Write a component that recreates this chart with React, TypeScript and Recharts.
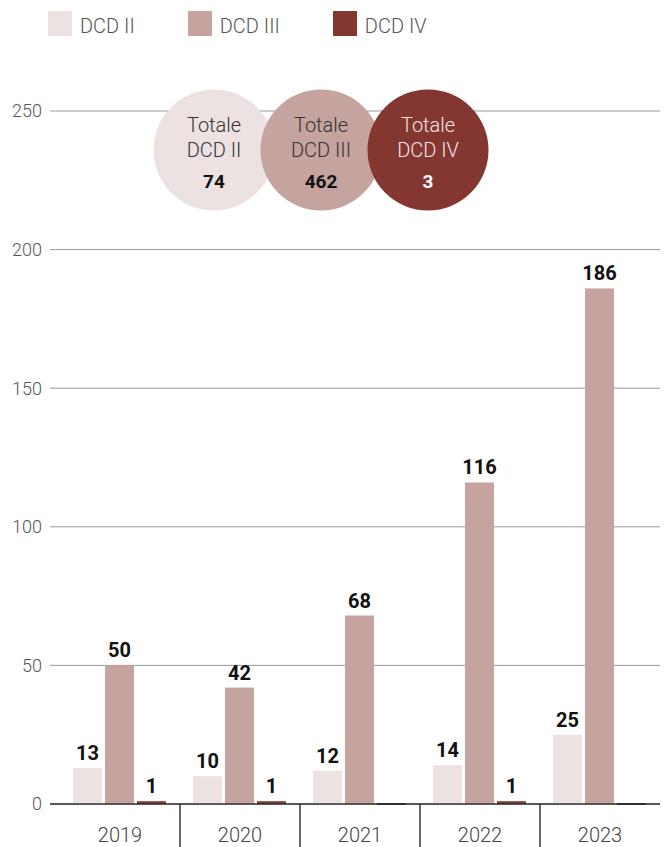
import React from 'react';
import { BarChart, Bar, XAxis, YAxis, CartesianGrid, LabelList, Legend } from 'recharts';

const years = ['2019', '2020', '2021', '2022', '2023'];
const dcd2 = [13, 10, 12, 14, 25];
const dcd3 = [50, 42, 68, 116, 186];
const dcd4 = [1, 1, 0, 1, 0];
const yTicks = [0, 50, 100, 150, 200, 250];
const seriesNames = ['DCD II', 'DCD III', 'DCD IV'];
const colors = ['#ece2e2', '#c5a39f', '#843631'];

const data = years.map((y, i) => ({ year: y, d2: dcd2[i], d3: dcd3[i], d4: dcd4[i] }));
const sum = (a: number[]) => a.reduce((s, v) => s + v, 0);
const totals = [sum(dcd2), sum(dcd3), sum(dcd4)];

const FONT = 'Roboto, "Open Sans", sans-serif';

const BarShape = (props: any) => {
  const { x, y, width, height, fill, value } = props;
  const v = Array.isArray(value) ? value[1] - value[0] : value;
  if (!v) {
    return <rect x={x} y={y - 1} width={width} height={2} fill="#222" />;
  }
  return <rect x={x} y={y} width={width} height={height} fill={fill} />;
};

const YearTick = (props: any) => {
  const { x, y, payload, index } = props;
  return (
    <g>
      {index > 0 && <line x1={x - 60} x2={x - 60} y1={y - 8} y2={y + 40} stroke="#333" strokeWidth={1.5} />}
      <text x={x} y={y + 30} textAnchor="middle" fill="#444" fontSize={20} fontWeight={300} fontFamily={FONT}>
        {payload.value}
      </text>
    </g>
  );
};

const LegendContent = () => (
  <div style={{ display: 'flex', alignItems: 'flex-start', fontFamily: FONT, height: 25 }}>
    {seriesNames.map((n, i) => (
      <div key={n} style={{ display: 'flex', alignItems: 'flex-start', marginRight: 53 }}>
        <div style={{ width: 24, height: 25, background: colors[i], marginRight: 8 }} />
        <span style={{ fontSize: 20, fontWeight: 300, color: '#555', lineHeight: '25px', marginTop: 3 }}>{n}</span>
      </div>
    ))}
  </div>
);

const fmt = (v: any) => (v === 0 ? '' : v);

export default function App() {
  const cx = [214, 321, 428];
  const textColors = ['#333', '#333', '#f3e6e4'];
  const numColors = ['#111', '#111', '#fff'];
  return (
    <div style={{ position: 'absolute', left: 0, top: 0, width: 668, height: 847, background: '#fff' }}>
      <BarChart
        width={668}
        height={847}
        data={data}
        margin={{ top: 86, right: 8, bottom: 0, left: 0 }}
        barCategoryGap={13}
        barGap={3}
      >
        <CartesianGrid vertical={false} stroke="#9a9a9a" strokeWidth={1} />
        <Legend
          verticalAlign="top"
          align="left"
          content={<LegendContent />}
          wrapperStyle={{ position: 'absolute', top: 11, left: 48, width: 600, height: 25 }}
        />
        <XAxis
          dataKey="year"
          height={43}
          padding={{ left: 10, right: 0 }}
          axisLine={{ stroke: '#333', strokeWidth: 1.5 }}
          tickLine={false}
          tick={<YearTick />}
          interval={0}
        />
        <YAxis
          width={50}
          domain={[0, 250]}
          ticks={yTicks}
          axisLine={false}
          tickLine={false}
          tickMargin={2}
          tick={{ fill: '#555', fontSize: 18, fontWeight: 300, fontFamily: FONT }}
        />
        {(['d2', 'd3', 'd4'] as const).map((k, i) => (
          <Bar key={k} dataKey={k} name={seriesNames[i]} fill={colors[i]} isAnimationActive={false} shape={<BarShape />}>
            <LabelList
              dataKey={k}
              position="top"
              offset={8}
              formatter={fmt}
              fill="#111"
              fontSize={20}
              fontWeight={700}
              fontFamily={FONT}
            />
          </Bar>
        ))}
      </BarChart>
      <svg width={668} height={847} style={{ position: 'absolute', left: 0, top: 0, pointerEvents: 'none' }}>
        {seriesNames.map((n, i) => (
          <g key={n} fontFamily={FONT}>
            <circle cx={cx[i]} cy={150} r={60.5} fill={colors[i]} />
            <text x={cx[i]} y={132} textAnchor="middle" fontSize={20} fontWeight={300} fill={textColors[i]}>Totale</text>
            <text x={cx[i]} y={157} textAnchor="middle" fontSize={20} fontWeight={300} fill={textColors[i]}>{n}</text>
            <text x={cx[i]} y={188} textAnchor="middle" fontSize={19} fontWeight={700} fill={numColors[i]}>{totals[i]}</text>
          </g>
        ))}
      </svg>
    </div>
  );
}
